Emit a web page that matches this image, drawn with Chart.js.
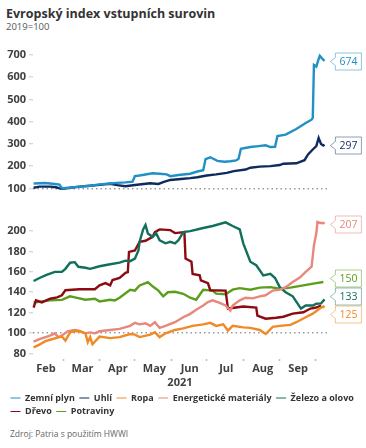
<!DOCTYPE html>
<html>
<head>
<meta charset="utf-8">
<script src="https://cdn.jsdelivr.net/npm/chart.js@4.4.0/dist/chart.umd.min.js"></script>
<style>
  body { margin: 0; background: #fff; font-family: "Open Sans", sans-serif; }
  #wrap { position: relative; width: 366px; height: 448px; overflow: hidden; }
  #title { position: absolute; left: 6px; top: 6px; line-height: 16px; font-size: 12.5px; font-weight: 700; color: #333; }
  #sub { position: absolute; left: 6px; top: 21px; line-height: 12px; font-size: 9.5px; color: #555; }
  #top { position: absolute; left: 0; top: 40px; }
  #bottom { position: absolute; left: 0; top: 200px; }
  #src { position: absolute; left: 10px; top: 428px; line-height: 12px; font-size: 8.5px; color: #666; }
</style>
</head>
<body>
<div id="wrap">
  <div id="title">Evropský index vstupních surovin</div>
  <div id="sub">2019=100</div>
  <canvas id="top" width="366" height="158"></canvas>
  <canvas id="bottom" width="366" height="226"></canvas>
  <div id="src">Zdroj: Patria s použitím HWWI</div>
</div>
<script>
// x values are days of 2021 (1 = 1 Jan)
const monthTicks = [60, 91, 121, 152, 182, 213, 244, 274];
const monthLabels = ['Feb', 'Mar', 'Apr', 'May', 'Jun', 'Jul', 'Aug', 'Sep'];

const gasDays = [35,45,53,57,59,66,74,83,91,100,106,113,119,121,125,136,142,148,151,158,168,174,179,181,185,191,197,202,207,209,211,219,226,232,236,240,242,249,258,266,271,272,273,275,277,278,280,282];
const gasVals = [122,124,120,117,101,103,108,112,118,122,125,127,130,155,158,168,166,163,155,160,166,176,182,232,240,224,220,222,226,233,278,286,290,294,286,287,335,342,367,394,409,417,655,648,682,696,684,674];

const coalDays = [35,40,49,54,57,59,66,74,83,91,100,106,113,121,134,141,145,151,160,168,174,182,190,199,205,215,219,227,236,244,247,258,265,268,272,275,277,279,281,282];
const coalVals = [103,108,108,105,100,98,103,108,112,116,121,115,110,115,123,120,128,138,142,146,150,158,163,170,178,185,193,198,200,205,211,213,227,253,275,290,327,300,293,297];

const oilDays = [35,40,45,49,56,59,62,66,70,74,79,81,83,85,89,91,100,108,117,121,125,134,138,142,147,155,162,170,179,185,190,196,200,204,213,219,227,232,238,244,253,258,266,272,278,281,282];
const oilVals = [86,88.6,92,93.4,95.8,96.5,92.5,100.7,102,101.7,99.7,91,96,89,94,96.5,95,96,99,98.4,96,98.4,100.7,96,99.7,103,104.6,107,108.5,110,107,108.5,102.4,107,105.5,105,103,99,106,107,108,110.6,115.5,119,124,126,125];

const energyDays = [35,40,49,53,56,59,64,70,74,79,83,87,91,100,108,117,121,125,130,134,138,142,147,155,162,168,173,179,183,187,193,198,202,204,210,215,221,227,232,238,244,249,255,261,266,271,273,275,276,278,281,282];
const energyVals = [91.5,94,97.5,99.7,96,97.5,101.7,103,102,99.7,100.6,99.7,101.7,103,104,107,110,108.5,109.6,107,110.6,105,107,110.6,115.5,118.8,122.8,127,130.3,132,129.5,127,122,127,132,134.6,134,136,137,141.6,142.5,145,150,154.4,160,165,186,197.8,209,208,208,207];

const ironDays = [35,40,46,53,59,62,66,70,73,79,83,91,100,108,113,117,121,124,125,128,130,132,136,139,142,147,151,155,158,162,168,179,187,198,204,210,213,219,224,230,236,240,244,249,255,262,266,272,275,279,282];
const ironVals = [151,154,157,160,160,163,169,169.5,165,164,163,165.5,167.5,169,171,170.5,173,181,189.5,201.7,206,197.7,194.4,198,191,188,189.5,188,191,199,200,203,205,208.6,205,201.7,188,170,166.5,156.6,158,154,145,140,136,124,127,127,128.7,129,133];

const woodDays = [35,37,42,49,55,59,62,74,87,91,96,100,102,108,113,115,116,121,125,130,136,138,142,151,155,163,164,169,170,176,177,183,185,198,200,213,224,225,232,241,247,255,264,270,275,279];
const woodVals = [124.8,132,130,133.6,135,137,142,143,143,146.7,149,146.7,152,154,159,159.7,179.6,181,189.5,190.5,194.4,199,201.7,201,198,199,173,170,158,156.6,151.7,149,142,141.6,124,126,125,117,114,115,116,119,120.4,124,125,127];

const foodDays = [35,49,59,66,70,79,87,91,100,104,108,117,121,125,130,132,136,141,145,149,155,162,168,173,179,187,190,198,204,210,219,227,236,244,253,264,275,281];
const foodVals = [130,132,132.5,136,135,132.6,133.6,131,132.6,132,134.6,142.5,141.6,146.7,149,150,145.8,141.6,136,140,140.5,138.5,134.6,132.6,142.5,141.6,138.6,138,142.5,144,142.5,144.5,145,143.5,144.5,146.7,149,150];

const colors = {
  gas: '#2190c6', coal: '#0e2b5c', oil: '#f08a26', energy: '#e8877b',
  iron: '#10705c', wood: '#8c0b12', food: '#5b9e1d'
};
const pale = {
  gas: 'rgba(33,144,198,0.5)', coal: 'rgba(14,43,92,0.45)', oil: 'rgba(240,138,38,0.5)',
  energy: 'rgba(232,135,123,0.55)', iron: 'rgba(16,112,92,0.45)', food: 'rgba(91,158,29,0.5)'
};

Chart.defaults.font.family = '"Open Sans", sans-serif';

function pts(days, vals) {
  return days.map((d, i) => ({ x: d, y: vals[i] }));
}

// value boxes at the right end of the lines
const callout = {
  id: 'callout',
  afterDatasetsDraw(chart) {
    const ctx = chart.ctx;
    const area = chart.chartArea;
    const items = [];
    chart.data.datasets.forEach((ds, i) => {
      if (!ds.callout) return;
      const meta = chart.getDatasetMeta(i);
      const last = meta.data[meta.data.length - 1];
      const v = ds.data[ds.data.length - 1].y;
      items.push({ y: last.y, text: String(Math.round(v)), color: ds.borderColor, box: ds.callout });
    });
    items.sort((a, b) => a.y - b.y);
    const h = 17, gap = 18;
    for (let k = 0; k < 40; k++) {
      for (let j = 1; j < items.length; j++) {
        const d = items[j].y - items[j - 1].y;
        if (d < gap) {
          const m = (gap - d) / 2;
          items[j - 1].y -= m;
          items[j].y += m;
        }
      }
    }
    ctx.save();
    ctx.font = '10.5px "Open Sans"';
    items.forEach(it => {
      const w = ctx.measureText(it.text).width + 8;
      const x = area.right + 8.5, y = Math.round(it.y) + 0.5;
      ctx.beginPath();
      ctx.moveTo(x, y - h / 2);
      ctx.lineTo(x + w, y - h / 2);
      ctx.lineTo(x + w, y + h / 2);
      ctx.lineTo(x, y + h / 2);
      ctx.lineTo(x, y + 4);
      ctx.lineTo(x - 5, y);
      ctx.lineTo(x, y - 4);
      ctx.closePath();
      ctx.fillStyle = '#fff';
      ctx.fill();
      ctx.strokeStyle = it.box;
      ctx.lineWidth = 1;
      ctx.stroke();
      ctx.fillStyle = it.color;
      ctx.textBaseline = 'middle';
      ctx.textAlign = 'left';
      ctx.fillText(it.text, x + 4, y + 0.5);
    });
    ctx.restore();
  }
};

const tickFont = { size: 11, weight: 'bold' };
const hundredGrid = {
  color: c => (c.tick && c.tick.value === 100 ? '#9a9a9a' : 'rgba(0,0,0,0)'),
  lineWidth: 1.5,
  tickColor: '#c8c8c8',
  tickWidth: 1,
  tickLength: 4
};

new Chart(document.getElementById('top'), {
  type: 'line',
  data: {
    datasets: [
      { label: 'Zemní plyn', data: pts(gasDays, gasVals), borderColor: colors.gas, callout: pale.gas },
      { label: 'Uhlí', data: pts(coalDays, coalVals), borderColor: colors.coal, callout: pale.coal }
    ]
  },
  options: {
    responsive: false,
    animation: false,
    layout: { padding: { top: 15, bottom: 8.7, left: 0, right: 39.1 } },
    elements: { point: { radius: 0 }, line: { borderWidth: 2.4, tension: 0 } },
    datasets: { line: { clip: false } },
    plugins: { legend: { display: false }, tooltip: { enabled: false } },
    scales: {
      x: { type: 'linear', min: 34.5, max: 284, display: false },
      y: {
        min: 100, max: 700,
        ticks: { stepSize: 100, padding: 3, color: '#404040', font: tickFont },
        grid: hundredGrid,
        border: { display: false, dash: [1.5, 3] },
        afterFit: s => { s.width = 33; }
      }
    }
  },
  plugins: [callout]
});

new Chart(document.getElementById('bottom'), {
  type: 'line',
  data: {
    datasets: [
      { label: 'Zemní plyn', data: [], borderColor: colors.gas, backgroundColor: colors.gas },
      { label: 'Uhlí', data: [], borderColor: colors.coal, backgroundColor: colors.coal },
      { label: 'Ropa', data: pts(oilDays, oilVals), borderColor: colors.oil, backgroundColor: colors.oil, callout: pale.oil },
      { label: 'Energetické materiály', data: pts(energyDays, energyVals), borderColor: colors.energy, backgroundColor: colors.energy, callout: pale.energy },
      { label: 'Železo a olovo', data: pts(ironDays, ironVals), borderColor: colors.iron, backgroundColor: colors.iron, callout: pale.iron },
      { label: 'Dřevo', data: pts(woodDays, woodVals), borderColor: colors.wood, backgroundColor: colors.wood },
      { label: 'Potraviny', data: pts(foodDays, foodVals), borderColor: colors.food, backgroundColor: colors.food, callout: pale.food }
    ]
  },
  options: {
    responsive: false,
    animation: false,
    layout: { padding: { top: 20.9, bottom: 0, left: 6, right: 0 } },
    elements: { point: { radius: 0 }, line: { borderWidth: 2.4, tension: 0 } },
    datasets: { line: { clip: false } },
    plugins: {
      tooltip: { enabled: false },
      legend: {
        position: 'bottom',
        align: 'start',
        labels: {
          usePointStyle: true,
          pointStyle: 'line',
          pointStyleWidth: 10,
          padding: 4.5,
          color: '#333',
          font: { size: 9, weight: 'bold' }
        }
      }
    },
    scales: {
      x: {
        type: 'linear', min: 34.5, max: 284,
        afterBuildTicks: s => { s.ticks = monthTicks.map(v => ({ value: v })); },
        ticks: {
          autoSkip: false, maxRotation: 0, minRotation: 0, padding: 1, labelOffset: -17,
          color: '#404040', font: tickFont,
          callback: (v, i) => monthLabels[i]
        },
        grid: { drawOnChartArea: false, tickLength: 8, tickColor: '#bbb', tickWidth: 1.5, tickBorderDash: [0, 6, 2, 20] },
        border: { display: false },
        title: { display: true, text: '2021', color: '#404040', font: tickFont, padding: { top: 0, bottom: 0 } },
        afterFit: s => { s.height = 35.6; }
      },
      y: {
        min: 80, max: 210,
        ticks: { stepSize: 10, padding: 3, color: '#404040', font: tickFont, callback: v => (v % 20 === 0 ? v : '') },
        grid: hundredGrid,
        border: { display: false, dash: [1.5, 3] },
        afterFit: s => { s.width = 27; }
      },
      yr: {
        position: 'right',
        ticks: { display: false },
        grid: { display: false },
        border: { display: false },
        afterFit: s => { s.width = 39.1; }
      }
    }
  },
  plugins: [callout]
});
</script>
</body>
</html>
